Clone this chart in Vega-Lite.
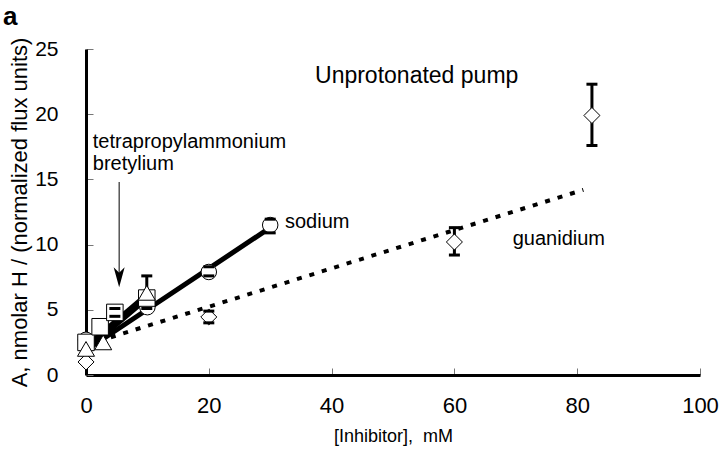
{
  "$schema": "https://vega.github.io/schema/vega-lite/v6.json",
  "width": 614,
  "height": 326,
  "autosize": {"type": "none"},
  "padding": {"left": 86, "top": 49, "right": 20, "bottom": 88},
  "background": "white",
  "title": {"text": "a", "anchor": "start", "frame": "group", "dx": -83, "offset": 7, "fontSize": 26, "fontWeight": "bold", "font": "Liberation Sans", "color": "black"},
  "config": {
    "view": {"stroke": null},
    "font": "Liberation Sans",
    "axis": {"grid": false, "domainColor": "black", "domainWidth": 3, "tickColor": "#777", "tickWidth": 1, "tickSize": -7, "labelFlush": false, "labelOverlap": false, "labelColor": "black", "titleColor": "black", "labelFont": "Liberation Sans", "titleFont": "Liberation Sans", "titleFontWeight": "normal"}
  },
  "datasets": {
    "points": [
      {"series": "sodium", "x": 0, "y": 2.7},
      {"series": "sodium", "x": 10, "y": 5.2},
      {"series": "sodium", "x": 20, "y": 7.9},
      {"series": "sodium", "x": 30, "y": 11.5},
      {"series": "guanidium", "x": 0, "y": 1.0},
      {"series": "guanidium", "x": 20, "y": 4.45},
      {"series": "guanidium", "x": 60, "y": 10.2},
      {"series": "guanidium", "x": 82.4, "y": 19.9},
      {"series": "tetrapropylammonium", "x": 0, "y": 2.5},
      {"series": "tetrapropylammonium", "x": 2.3, "y": 3.7},
      {"series": "tetrapropylammonium", "x": 4.7, "y": 4.8},
      {"series": "tetrapropylammonium", "x": 9.9, "y": 5.9},
      {"series": "bretylium", "x": 0, "y": 2.0},
      {"series": "bretylium", "x": 2.8, "y": 2.5},
      {"series": "bretylium", "x": 9.9, "y": 6.3}
    ],
    "errors": [
      {"series": "sodium", "x": 20, "lo": 7.6, "hi": 8.3},
      {"series": "sodium", "x": 30, "lo": 10.9, "hi": 11.95},
      {"series": "guanidium", "x": 20, "lo": 4.0, "hi": 4.9},
      {"series": "guanidium", "x": 60, "lo": 9.2, "hi": 11.3},
      {"series": "guanidium", "x": 82.4, "lo": 17.6, "hi": 22.3},
      {"series": "tetrapropylammonium", "x": 4.7, "lo": 4.5, "hi": 5.1},
      {"series": "bretylium", "x": 9.9, "lo": 5.1, "hi": 7.6}
    ],
    "fits": [
      {"series": "sodium", "x": 0, "y": 1.9},
      {"series": "sodium", "x": 30, "y": 11.3},
      {"series": "tetrapropylammonium", "x": 0, "y": 2.2},
      {"series": "tetrapropylammonium", "x": 10, "y": 6.2},
      {"series": "bretylium", "x": 0, "y": 1.9},
      {"series": "bretylium", "x": 10, "y": 5.9}
    ],
    "guanfit": [
      {"series": "guanidium", "x": 0, "y": 2.3},
      {"series": "guanidium", "x": 81, "y": 14.2}
    ],
    "labels": [
      {"text": "Unprotonated pump", "x": 37.3, "y": 22.4, "size": 23},
      {"text": "tetrapropylammonium", "x": 1.1, "y": 17.4, "size": 20},
      {"text": "bretylium", "x": 1.1, "y": 15.7, "size": 20},
      {"text": "sodium", "x": 32.4, "y": 11.3, "size": 20},
      {"text": "guanidium", "x": 69.5, "y": 10.0, "size": 20}
    ],
    "arrow": [
      {"x": 5.4, "y": 14.8, "y2": 7.6, "tip": 7.5}
    ]
  },
  "layer": [
    {
      "data": {"name": "fits"},
      "mark": {"type": "line", "color": "black", "strokeWidth": 5, "strokeCap": "round"},
      "encoding": {
        "x": {"field": "x", "type": "quantitative", "scale": {"domain": [0, 100], "nice": false}, "axis": {"values": [0, 20, 40, 60, 80, 100], "title": "[Inhibitor], \u00a0mM", "labelFontSize": 22, "labelPadding": 27, "titleFontSize": 18, "titlePadding": 11}},
        "y": {"field": "y", "type": "quantitative", "scale": {"domain": [0, 25], "nice": false}, "axis": {"values": [0, 5, 10, 15, 20, 25], "title": "A, nmolar H / (normalized flux units)", "labelFontSize": 21, "labelPadding": 35, "titleFontSize": 22, "titlePadding": 3}},
        "detail": {"field": "series"}
      }
    },
    {
      "data": {"name": "guanfit"},
      "mark": {"type": "line", "color": "black", "strokeWidth": 4, "strokeDash": [5, 8]},
      "encoding": {
        "x": {"field": "x", "type": "quantitative"},
        "y": {"field": "y", "type": "quantitative"}
      }
    },
    {
      "data": {"name": "errors"},
      "mark": {"type": "rule", "color": "black", "strokeWidth": 3},
      "encoding": {
        "x": {"field": "x", "type": "quantitative"},
        "y": {"field": "lo", "type": "quantitative"},
        "y2": {"field": "hi"}
      }
    },
    {
      "data": {"name": "points"},
      "mark": {"type": "point", "filled": false, "fill": "white", "fillOpacity": 1, "stroke": "black", "strokeWidth": 1, "opacity": 1},
      "encoding": {
        "x": {"field": "x", "type": "quantitative"},
        "y": {"field": "y", "type": "quantitative"},
        "shape": {"field": "series", "type": "nominal", "scale": {"domain": ["sodium", "guanidium", "tetrapropylammonium", "bretylium"], "range": ["circle", "diamond", "square", "triangle-up"]}, "legend": null},
        "size": {"field": "series", "type": "nominal", "scale": {"domain": ["sodium", "guanidium", "tetrapropylammonium", "bretylium"], "range": [240, 289, 81, 180]}, "legend": null}
      }
    },
    {
      "data": {"name": "errors"},
      "mark": {"type": "tick", "color": "black", "thickness": 3, "size": 11, "orient": "horizontal", "opacity": 1},
      "encoding": {
        "x": {"field": "x", "type": "quantitative"},
        "y": {"field": "lo", "type": "quantitative"}
      }
    },
    {
      "data": {"name": "errors"},
      "mark": {"type": "tick", "color": "black", "thickness": 3, "size": 11, "orient": "horizontal", "opacity": 1},
      "encoding": {
        "x": {"field": "x", "type": "quantitative"},
        "y": {"field": "hi", "type": "quantitative"}
      }
    },
    {
      "data": {"name": "arrow"},
      "mark": {"type": "rule", "color": "black", "strokeWidth": 1},
      "encoding": {
        "x": {"field": "x", "type": "quantitative"},
        "y": {"field": "y", "type": "quantitative"},
        "y2": {"field": "y2"}
      }
    },
    {
      "data": {"name": "arrow"},
      "mark": {"type": "point", "shape": "M-0.55,-1L0,1L0.55,-1L0,-0.45Z", "filled": true, "color": "black", "size": 400, "opacity": 1},
      "encoding": {
        "x": {"field": "x", "type": "quantitative"},
        "y": {"field": "tip", "type": "quantitative"}
      }
    },
    {
      "data": {"name": "labels"},
      "mark": {"type": "text", "align": "left", "baseline": "alphabetic", "color": "black", "font": "Liberation Sans"},
      "encoding": {
        "x": {"field": "x", "type": "quantitative"},
        "y": {"field": "y", "type": "quantitative"},
        "text": {"field": "text"},
        "size": {"field": "size", "type": "quantitative", "scale": null}
      }
    }
  ]
}
